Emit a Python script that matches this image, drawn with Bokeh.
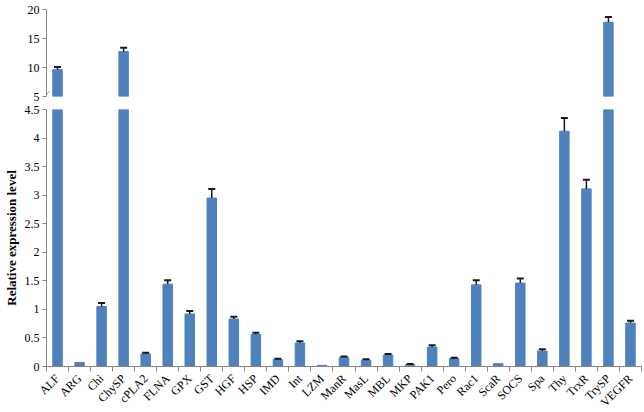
import numpy as np
from math import pi
from bokeh.plotting import figure
from bokeh.layouts import column
from bokeh.models import Range1d, FixedTicker, NumeralTickFormatter, ColumnDataSource, Arrow
from bokeh.embed import file_html
from bokeh.resources import INLINE

# ---- data ----
genes = ["ALF", "ARG", "Chi", "ChySP", "cPLA2", "FLNA", "GPX", "GST", "HGF", "HSP",
         "IMD", "Int", "LZM", "ManR", "MasL", "MBL", "MKP", "PAK1", "Pero", "Rac1",
         "ScaR", "SOCS", "Spa", "Thy", "TrxR", "TrySP", "VEGFR"]
expr = [9.62, 0.07, 1.05, 12.75, 0.22, 1.44, 0.92, 2.95, 0.83, 0.56,
        0.12, 0.41, 0.02, 0.16, 0.11, 0.20, 0.03, 0.34, 0.14, 1.43,
        0.05, 1.46, 0.27, 4.12, 3.11, 17.8, 0.76]
err = [0.45, 0.0, 0.06, 0.65, 0.02, 0.07, 0.05, 0.16, 0.04, 0.03,
       0.015, 0.03, 0.0, 0.015, 0.015, 0.02, 0.012, 0.03, 0.015, 0.08,
       0.0, 0.08, 0.03, 0.23, 0.16, 0.9, 0.04]
upper_ticks = [5, 10, 15, 20]
lower_ticks = [0, 0.5, 1, 1.5, 2, 2.5, 3, 3.5, 4, 4.5]
upper_lim = (5, 20)
lower_lim = (0, 4.5)
y_title = "Relative expression level"

BAR = "#4F81BD"
AXIS = "#868686"
FONT = "Liberation Serif"

n = len(genes)
xs = list(range(n))
tops = [v + e for v, e in zip(expr, err)]


def make_sources(keep_bar, keep_err):
    bars = ColumnDataSource(dict(
        x=[x for x, v in zip(xs, expr) if keep_bar(v)],
        val=[v for v in expr if keep_bar(v)]))
    errs = ColumnDataSource(dict(
        x=[x for x, v, e in zip(xs, expr, err) if e > 0 and keep_err(v)],
        val=[v for v, e in zip(expr, err) if e > 0 and keep_err(v)],
        top=[t for v, e, t in zip(expr, err, tops) if e > 0 and keep_err(v)]))
    return bars, errs


up_bars, up_errs = make_sources(lambda v: v > upper_lim[0], lambda v: v > upper_lim[0])
lo_bars, lo_errs = make_sources(lambda v: True, lambda v: v <= lower_lim[1])

xr = Range1d(-0.5, n - 0.5)

W = 643
LB, RB = 46, 2
FW = W - LB - RB
UH, LH = 87, 257


def style_y(ax, ticks, label):
    ax.ticker = FixedTicker(ticks=ticks)
    ax.formatter = NumeralTickFormatter(format="0.[0]")
    ax.axis_line_color = AXIS
    ax.major_tick_line_color = AXIS
    ax.major_tick_out = 4
    ax.major_tick_in = 0
    ax.minor_tick_line_color = None
    ax.major_label_standoff = 3
    ax.major_label_text_font = FONT
    ax.major_label_text_font_size = "12px"
    ax.major_label_text_color = "black"
    ax.axis_label = label
    ax.axis_label_text_font = FONT
    ax.axis_label_text_font_size = "13px"
    ax.axis_label_text_font_style = "bold"
    ax.axis_label_text_color = "black"
    ax.axis_label_standoff = 3


def draw(p, bars, errs, bottom):
    p.vbar(x="x", top="val", bottom=bottom, width=0.43, source=bars,
           fill_color=BAR, line_color=BAR)
    p.segment(x0="x", y0="val", x1="x", y1="top", source=errs,
              line_color="#1a1a1a", line_width=1.5)
    p.scatter(x="x", y="top", source=errs, marker="dash", size=7,
              line_color="#1a1a1a", line_width=2)


# ---- upper panel ----
up = figure(width=W, frame_height=UH, x_range=xr, y_range=Range1d(*upper_lim),
            min_border_left=LB, min_border_right=RB, min_border_top=9, min_border_bottom=6,
            output_backend="svg", toolbar_location=None, x_axis_location=None)
draw(up, up_bars, up_errs, upper_lim[0])
style_y(up.yaxis[0], upper_ticks, " ")

# ---- lower panel ----
lo = figure(width=W, frame_height=LH, x_range=xr, y_range=Range1d(*lower_lim),
            min_border_left=LB, min_border_right=RB, min_border_top=7, min_border_bottom=0,
            output_backend="svg", toolbar_location=None)
draw(lo, lo_bars, lo_errs, lower_lim[0])
style_y(lo.yaxis[0], lower_ticks, y_title)

xa = lo.xaxis[0]
xa.ticker = FixedTicker(ticks=xs, minor_ticks=list(np.arange(n + 1) - 0.5))
xa.major_label_overrides = {i: g for i, g in zip(xs, genes)}
xa.major_tick_line_color = None
xa.major_tick_out = 0
xa.major_tick_in = 0
xa.minor_tick_line_color = AXIS
xa.minor_tick_out = 5
xa.minor_tick_in = 0
xa.axis_line_color = AXIS
xa.major_label_orientation = pi / 4
xa.major_label_standoff = 5
xa.major_label_text_font = FONT
xa.major_label_text_font_size = "12px"
xa.major_label_text_color = "black"

for p in (up, lo):
    p.xgrid.visible = False
    p.ygrid.visible = False
    p.outline_line_color = None
    p.background_fill_color = "white"
    p.border_fill_color = "white"

# ---- axis break marks ----
pxx = FW / n
pyu = UH / (upper_lim[1] - upper_lim[0])
pyl = LH / (lower_lim[1] - lower_lim[0])
dx0, dx1 = -8 / pxx, 3 / pxx
up.add_layout(Arrow(end=None, x_start=xr.start + dx0, x_end=xr.start + dx1,
                    y_start=upper_lim[0] - 5 / pyu, y_end=upper_lim[0] + 5 / pyu,
                    line_color=AXIS, line_width=1))
lo.add_layout(Arrow(end=None, x_start=xr.start + dx0, x_end=xr.start + dx1,
                    y_start=lower_lim[1] - 5 / pyl, y_end=lower_lim[1] + 5 / pyl,
                    line_color=AXIS, line_width=1))

layout = column(up, lo, spacing=0)
open("out.html", "w").write(file_html(layout, INLINE))
